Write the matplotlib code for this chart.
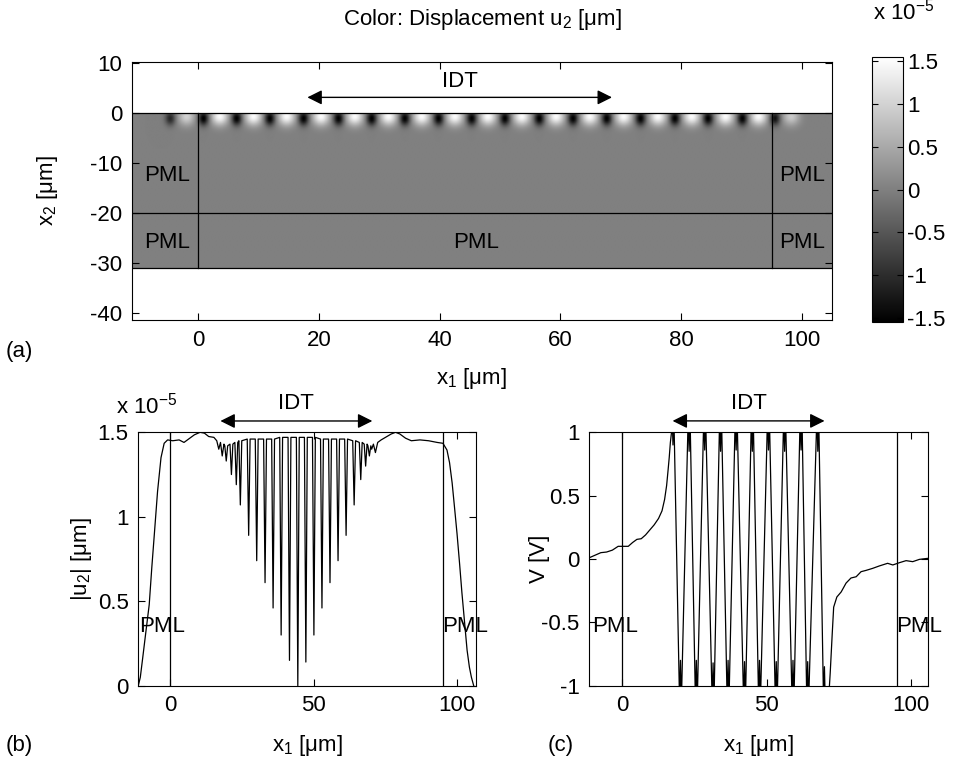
import numpy as np
import matplotlib
matplotlib.use('Agg')
import matplotlib.pyplot as plt

plt.rcParams['font.family'] = ['Liberation Sans', 'DejaVu Sans']
plt.rcParams['mathtext.fontset'] = 'custom'
plt.rcParams['mathtext.rm'] = 'Liberation Sans'
plt.rcParams['mathtext.it'] = 'Liberation Sans'
plt.rcParams['axes.unicode_minus'] = False
plt.rcParams['font.size'] = 16

# ---- data ----
# (a) surface field: dark / bright spot centres along x1 [um] and their amplitude (x1e-5 um)
dark_x = [-4.7, 0.8, 6.3, 11.8, 17.4, 23.2, 28.7, 34.2, 39.8, 45.3, 50.8, 56.5,
          62.1, 67.7, 73.3, 79.0, 84.5, 90.2, 95.6]
dark_amp = [-1.1, -1.6, -1.6, -1.6, -1.6, -1.6, -1.6, -1.6, -1.6, -1.6, -1.6, -1.6,
            -1.6, -1.6, -1.6, -1.6, -1.6, -1.6, -1.4]
bright_x = [-2.0, 3.5, 9.1, 14.6, 20.3, 25.9, 31.5, 37.0, 42.5, 48.0, 53.6, 59.3,
            64.9, 70.5, 76.2, 81.8, 87.4, 92.9, 98.3]
bright_amp = [1.0, 1.5, 1.5, 1.5, 1.5, 1.5, 1.5, 1.5, 1.5, 1.5, 1.5, 1.5,
              1.5, 1.5, 1.5, 1.5, 1.5, 1.5, 0.9]
cbar_ticks = [-1.5, -1, -0.5, 0, 0.5, 1, 1.5]
cbar_labels = ['-1.5', '-1', '-0.5', '0', '0.5', '1', '1.5']

# (b) |u2| (x1e-5 um)
b_left_x = [-11.0, -10.3, -9.5, -8.5, -7.2, -6.3, -5.45, -4.3, -3.1, -2.0, -0.8, 1.0,
            3.2, 4.9, 6.5, 8.5, 10.5, 12.0, 13.5, 15.3, 16.3, 17.0, 17.6, 18.2, 18.8]
b_left_y = [0.0, 0.05, 0.16, 0.3, 0.48, 0.70, 0.89, 1.15, 1.35, 1.435, 1.455, 1.45,
            1.455, 1.44, 1.46, 1.485, 1.50, 1.495, 1.475, 1.47, 1.45, 1.40, 1.44, 1.36, 1.43]
dip_x = [19.6, 21.4, 23.1, 24.5, 27.4, 30.2, 33.1, 35.9, 38.7, 41.6, 44.5, 47.3,
         50.1, 52.9, 55.7, 58.5, 61.3, 64.1, 66.4, 68.1, 69.4]
dip_y = [1.33, 1.25, 1.19, 1.07, 0.89, 0.74, 0.61, 0.46, 0.30, 0.15, 0.0, 0.14,
         0.30, 0.46, 0.61, 0.74, 0.89, 1.07, 1.22, 1.30, 1.36]
dip_top = [1.42, 1.43, 1.44, 1.45, 1.46, 1.46, 1.46, 1.46, 1.47, 1.47, 1.47, 1.47,
           1.47, 1.46, 1.46, 1.46, 1.46, 1.45, 1.44, 1.43, 1.42]
b_right_x = [70.2, 70.8, 71.5, 72.3, 73.5, 75.0, 77.0, 78.5, 80.0, 82.0, 84.0, 87.0,
             90.0, 93.0, 95.0, 96.4, 97.3, 98.2, 99.0, 99.9, 100.8, 101.6, 102.5,
             103.4, 104.2, 104.9, 105.7]
b_right_y = [1.40, 1.43, 1.38, 1.44, 1.455, 1.47, 1.49, 1.50, 1.49, 1.465, 1.45, 1.455,
             1.45, 1.44, 1.435, 1.395, 1.32, 1.20, 1.06, 0.90, 0.72, 0.55, 0.38,
             0.21, 0.11, 0.05, 0.0]

# (c) V [V]
c_left_x = [-11.5, -9.5, -7.5, -5.5, -3.5, -1.5, 0.5, 2.0, 3.5, 5.0, 6.5, 8.0, 9.5,
            11.0, 12.5, 13.7, 14.6, 15.3, 15.8, 16.2, 16.6, 17.0]
c_left_y = [0.01, 0.03, 0.05, 0.055, 0.07, 0.10, 0.10, 0.10, 0.13, 0.155, 0.16, 0.19,
            0.23, 0.27, 0.32, 0.38, 0.47, 0.58, 0.70, 0.80, 0.92, 1.0]
v_top_x = [17.5, 23.1, 28.5, 34.0, 39.4, 45.0, 50.6, 56.2, 61.9, 67.7]
v_top_y = [0.90, 0.85, 0.86, 0.85, 0.86, 0.85, 0.86, 0.85, 0.86, 0.85]
v_bot_x = [20.1, 25.6, 31.4, 36.6, 42.3, 47.5, 53.3, 59.1, 64.2, 70.0]
v_bot_y = [-0.80, -0.80, -0.82, -0.80, -0.81, -0.80, -0.81, -0.80, -0.81, -0.85]
c_right_x = [71.6, 72.0, 72.7, 73.2, 74.3, 75.8, 77.5, 79.2, 81.0, 82.7, 84.4, 86.7,
             89.0, 91.9, 93.7, 96.0, 98.3, 100.6, 102.9, 105.8]
c_right_y = [-1.05, -0.90, -0.59, -0.38, -0.30, -0.26, -0.19, -0.15, -0.14, -0.10,
             -0.09, -0.074, -0.055, -0.034, -0.047, -0.029, -0.013, -0.021, -0.003, 0.005]

W, H = 968, 769
fig = plt.figure(figsize=(W / 100, H / 100), dpi=100)


def box(l, t, r, b):
    return [l / W, 1 - b / H, (r - l) / W, (b - t) / H]


def style(ax):
    ax.tick_params(direction='in', top=True, right=True, length=5, width=0.8, pad=7)
    for s in ax.spines.values():
        s.set_linewidth(0.8)


def place_labels(ax, l, t, r, b, ylab_x, xlab_y=None):
    # label centres given in figure pixels
    ax.yaxis.set_label_coords((ylab_x - l) / (r - l), 0.5)
    ax.yaxis.label.set_va('center')
    if xlab_y is not None:
        ax.xaxis.set_label_coords(0.5, (b - xlab_y) / (b - t))
        ax.xaxis.label.set_va('center')


# ---- (a) field ----
ax = fig.add_axes(box(132, 62, 832, 320))
xg = np.linspace(-11, 105, 900)
yg = np.linspace(-31, 0, 240)
X, Y = np.meshgrid(xg, yg)
U = np.zeros_like(X)
for xd, a in zip(dark_x, dark_amp):
    U += a * np.exp(-((X - xd) / 0.85) ** 2 - ((Y + 1.0) / 1.4) ** 2)
for xb, a in zip(bright_x, bright_amp):
    U += a * np.exp(-((X - xb) / 1.4) ** 2 - ((Y + 0.6) / 1.8) ** 2)
U = np.clip(U, -1.55, 1.55)
im = ax.imshow(U, origin='lower', extent=[-11, 105, -31, 0], aspect='auto',
               cmap='gray', vmin=-1.55, vmax=1.55, interpolation='bilinear')
ax.set_xlim(-11, 105)
ax.set_ylim(-41.5, 10.3)
ax.set_xticks([0, 20, 40, 60, 80, 100])
ax.set_yticks([-40, -30, -20, -10, 0, 10])
ax.axhline(0, color='k', lw=0.9)
ax.axhline(-20, color='k', lw=0.9)
ax.axhline(-31, color='k', lw=0.9)
ax.plot([0, 0], [0, -31], color='k', lw=0.9)
ax.plot([95, 95], [0, -31], color='k', lw=0.9)
for tx, ty in [(-5.2, -12.5), (-5.2, -25.9), (100.0, -12.5), (100.0, -25.9), (46, -25.9)]:
    ax.text(tx, ty, 'PML', ha='center', va='center')
ax.annotate('', xy=(17.6, 3.2), xytext=(69.0, 3.2),
            arrowprops=dict(arrowstyle='<|-|>', mutation_scale=22, color='k', lw=1))
ax.text(43.3, 6.4, 'IDT', ha='center', va='center')
ax.set_ylabel(r'x$_\mathregular{2}$ [μm]')
place_labels(ax, 132, 62, 832, 320, 47)
style(ax)
fig.text(482 / W, 1 - 19 / H, r'Color: Displacement u$_\mathregular{2}$ [μm]',
         ha='center', va='center')
fig.text(471 / W, 1 - 379 / H, r'x$_\mathregular{1}$ [μm]', ha='center', va='center')
fig.text(6 / W, 1 - 352 / H, '(a)', ha='left', va='center')

cax = fig.add_axes(box(872, 57, 903, 322))
cb = fig.colorbar(im, cax=cax, ticks=cbar_ticks)
cb.ax.set_yticklabels(cbar_labels)
cb.outline.set_linewidth(0.8)
cax.tick_params(direction='in', left=True, right=True, length=4, width=0.8, pad=3)
fig.text(873 / W, 1 - 12 / H, r'x 10$^\mathregular{-5}$', ha='left', va='center')

# ---- (b) |u2| ----
bl, bt, br, bb = 138.3, 432.3, 476, 685.7
axb = fig.add_axes(box(bl, bt, br, bb))
bx = list(b_left_x)
by = list(b_left_y)
for xd, yd, t in zip(dip_x, dip_y, dip_top):
    bx += [xd - 0.5, xd, xd + 0.5]
    by += [t, yd, t]
bx += b_right_x
by += b_right_y
axb.plot(bx, by, color='k', lw=0.9)
axb.axvline(0, color='k', lw=0.9)
axb.axvline(95, color='k', lw=0.9)
axb.set_xlim(-11, 106.5)
axb.set_ylim(0, 1.5)
axb.set_xticks([0, 50, 100])
axb.set_yticks([0, 0.5, 1, 1.5])
axb.set_yticklabels(['0', '0.5', '1', '1.5'])
axb.text(-10.6, 0.35, 'PML', ha='left', va='center')
axb.text(94.6, 0.35, 'PML', ha='left', va='center', clip_on=False)
axb.annotate('', xy=(16.6, 1.567), xytext=(71.4, 1.567), annotation_clip=False,
             arrowprops=dict(arrowstyle='<|-|>', mutation_scale=22, color='k', lw=1))
axb.text(44, 1.67, 'IDT', ha='center', va='center', clip_on=False)
axb.set_ylabel(r'|u$_\mathregular{2}$| [μm]')
axb.set_xlabel(r'x$_\mathregular{1}$ [μm]')
place_labels(axb, bl, bt, br, bb, 82, 745)
style(axb)
fig.text(116 / W, 1 - 406 / H, r'x 10$^\mathregular{-5}$', ha='left', va='center')
fig.text(6 / W, 1 - 745 / H, '(b)', ha='left', va='center')

# ---- (c) V ----
cl, ct, cr, cbm = 589.3, 432.3, 928.3, 685.7
axc = fig.add_axes(box(cl, ct, cr, cbm))
cx = list(c_left_x)
cy = list(c_left_y)
for pt, yt, pb, yb in zip(v_top_x, v_top_y, v_bot_x, v_bot_y):
    cx += [pt - 0.3, pt, pt + 0.3, pb - 0.3, pb, pb + 0.3]
    cy += [1.15, yt, 1.15, -1.15, yb, -1.15]
cx += c_right_x
cy += c_right_y
axc.plot(cx, cy, color='k', lw=0.9)
axc.axvline(0, color='k', lw=0.9)
axc.axvline(95, color='k', lw=0.9)
axc.set_xlim(-11.5, 106)
axc.set_ylim(-1, 1)
axc.set_xticks([0, 50, 100])
axc.set_yticks([-1, -0.5, 0, 0.5, 1])
axc.set_yticklabels(['-1', '-0.5', '0', '0.5', '1'])
axc.text(-10.4, -0.534, 'PML', ha='left', va='center')
axc.text(94.9, -0.534, 'PML', ha='left', va='center', clip_on=False)
axc.annotate('', xy=(16.4, 1.09), xytext=(71.0, 1.09), annotation_clip=False,
             arrowprops=dict(arrowstyle='<|-|>', mutation_scale=22, color='k', lw=1))
axc.text(43.7, 1.225, 'IDT', ha='center', va='center', clip_on=False)
axc.set_ylabel('V [V]')
axc.set_xlabel(r'x$_\mathregular{1}$ [μm]')
place_labels(axc, cl, ct, cr, cbm, 540, 745)
style(axc)
fig.text(548 / W, 1 - 745 / H, '(c)', ha='left', va='center')

fig.savefig('out.png', dpi=100)
